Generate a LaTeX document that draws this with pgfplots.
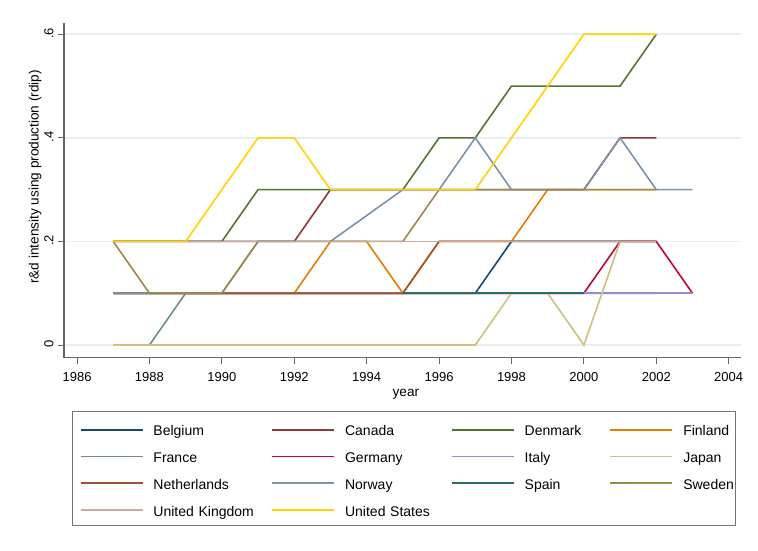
\documentclass[border=0pt]{standalone}
\usepackage{fontspec}
\setmainfont{Liberation Sans}
\usepackage{pgfplots}
\pgfplotsset{compat=1.18}

% Stata s2color line colours
\definecolor{cBEL}{RGB}{26,71,111}
\definecolor{cCAN}{RGB}{144,53,59}
\definecolor{cDNK}{RGB}{85,117,47}
\definecolor{cFIN}{RGB}{227,126,0}
\definecolor{cFRA}{RGB}{110,142,132}
\definecolor{cDEU}{RGB}{193,5,52}
\definecolor{cITA}{RGB}{147,141,210}
\definecolor{cJPN}{RGB}{202,194,126}
\definecolor{cNLD}{RGB}{160,82,45}
\definecolor{cNOR}{RGB}{123,146,168}
\definecolor{cESP}{RGB}{45,109,102}
\definecolor{cSWE}{RGB}{156,136,71}
\definecolor{cGBR}{RGB}{200,168,162}
\definecolor{cUSA}{RGB}{255,210,0}
\definecolor{gridc}{RGB}{232,239,243}

\begin{document}
\fontsize{13}{15.6}\selectfont
\begin{tikzpicture}
\path[use as bounding box] (0pt,0pt) rectangle (758pt,550pt);
\begin{axis}[
    at={(64pt,192.5pt)}, anchor=south west,
    width=677pt, height=334.5pt, scale only axis,
    xmin=1985.64, xmax=2004.34,
    ymin=-0.0241, ymax=0.6218,
    axis x line*=bottom, axis y line*=left,
    axis line style={black!60, line width=1.2pt},
    xtick={1986,1988,...,2004},
    ytick={0,0.2,0.4,0.6},
    yticklabels={0,.2,.4,.6},
    tick align=outside,
    major tick length=6pt,
    tick style={black!60, line width=1pt},
    ymajorgrids=true,
    grid style={gridc, line width=1.6pt},
    /pgf/number format/1000 sep={},
    /pgf/number format/assume math mode=true,
    ticklabel style={font=\fontsize{13}{15.6}\selectfont},
    xticklabel style={yshift=-4.5pt},
    yticklabel style={rotate=90, anchor=south, xshift=1pt},
    xlabel={year},
    ylabel={r\&d intensity using production (rdip)},
    label style={font=\fontsize{13.6}{16}\selectfont},
    xlabel style={at={(axis description cs:0.505,-0.11)}, anchor=center},
    ylabel style={at={(axis description cs:-0.0428,0.54)}, anchor=center},
    every axis plot/.append style={line width=1.6pt},
    legend columns=4,
    legend cell align=left,
    legend image code/.code={\draw[#1, line width=1.6pt] (0pt,-1.5pt) -- (62pt,-1.5pt);},
    legend style={
        at={(axis description cs:0.0118,-0.16)}, anchor=north west,
        draw=black!55, line width=0.8pt, fill=white,
        inner xsep=7.5pt, inner ysep=3.5pt,
        font=\fontsize{14}{16.8}\selectfont,
        column sep=10pt, row sep=0pt,
        nodes={inner xsep=0pt, inner ysep=0pt, text height=21pt, text depth=5.7pt},
        /tikz/column 2/.style={nodes={text width=108pt}},
        /tikz/column 4/.style={nodes={text width=96pt}},
        /tikz/column 6/.style={nodes={text width=75pt}},
        /tikz/column 8/.style={nodes={text width=45pt}},
    },
]
\addplot[cBEL] coordinates {
(1987,0.1)(1988,0.1)(1989,0.1)(1990,0.1)(1991,0.1)(1992,0.1)(1993,0.1)(1994,0.1)
(1995,0.1)(1996,0.1)(1997,0.1)(1998,0.2)(1999,0.2)(2000,0.2)(2001,0.2)(2002,0.2)};
\addlegendentry{Belgium}
\addplot[cCAN] coordinates {
(1987,0.2)(1988,0.2)(1989,0.2)(1990,0.2)(1991,0.2)(1992,0.2)(1993,0.3)(1994,0.3)
(1995,0.3)(1996,0.3)(1997,0.3)(1998,0.3)(1999,0.3)(2000,0.3)(2001,0.4)(2002,0.4)};
\addlegendentry{Canada}
\addplot[cDNK] coordinates {
(1987,0.2)(1988,0.2)(1989,0.2)(1990,0.2)(1991,0.3)(1992,0.3)(1993,0.3)(1994,0.3)
(1995,0.3)(1996,0.4)(1997,0.4)(1998,0.5)(1999,0.5)(2000,0.5)(2001,0.5)(2002,0.6)};
\addlegendentry{Denmark}
\addplot[cFIN] coordinates {
(1987,0.1)(1988,0.1)(1989,0.1)(1990,0.1)(1991,0.1)(1992,0.1)(1993,0.2)(1994,0.2)
(1995,0.1)(1996,0.2)(1997,0.2)(1998,0.2)(1999,0.3)(2000,0.3)(2001,0.3)(2002,0.3)};
\addlegendentry{Finland}
\addplot[cFRA] coordinates {
(1987,0)(1988,0)(1989,0.1)(1990,0.1)(1991,0.1)(1992,0.1)(1993,0.1)(1994,0.1)
(1995,0.1)(1996,0.1)(1997,0.1)(1998,0.1)(1999,0.1)(2000,0.1)(2001,0.1)(2002,0.1)};
\addlegendentry{France}
\addplot[cDEU] coordinates {
(1987,0.1)(1988,0.1)(1989,0.1)(1990,0.1)(1991,0.1)(1992,0.1)(1993,0.1)(1994,0.1)
(1995,0.1)(1996,0.1)(1997,0.1)(1998,0.1)(1999,0.1)(2000,0.1)(2001,0.2)(2002,0.2)(2003,0.1)};
\addlegendentry{Germany}
\addplot[cITA] coordinates {
(1987,0.1)(1988,0.1)(1989,0.1)(1990,0.1)(1991,0.1)(1992,0.1)(1993,0.1)(1994,0.1)
(1995,0.1)(1996,0.1)(1997,0.1)(1998,0.1)(1999,0.1)(2000,0.1)(2001,0.1)(2002,0.1)(2003,0.1)};
\addlegendentry{Italy}
\addplot[cJPN] coordinates {
(1987,0)(1988,0)(1989,0)(1990,0)(1991,0)(1992,0)(1993,0)(1994,0)
(1995,0)(1996,0)(1997,0)(1998,0.1)(1999,0.1)(2000,0)(2001,0.2)(2002,0.2)};
\addlegendentry{Japan}
\addplot[cNLD] coordinates {
(1987,0.1)(1988,0.1)(1989,0.1)(1990,0.1)(1991,0.1)(1992,0.1)(1993,0.1)(1994,0.1)
(1995,0.1)(1996,0.2)(1997,0.2)(1998,0.2)(1999,0.2)(2000,0.2)(2001,0.2)(2002,0.2)};
\addlegendentry{Netherlands}
\addplot[cNOR] coordinates {
(1987,0.1)(1988,0.1)(1989,0.1)(1990,0.1)(1991,0.2)(1992,0.2)(1993,0.2)(1994,0.25)
(1995,0.3)(1996,0.3)(1997,0.4)(1998,0.3)(1999,0.3)(2000,0.3)(2001,0.4)(2002,0.3)(2003,0.3)};
\addlegendentry{Norway}
\addplot[cESP] coordinates {
(1995,0.1)(1996,0.1)(1997,0.1)(1998,0.1)(1999,0.1)(2000,0.1)};
\addlegendentry{Spain}
\addplot[cSWE] coordinates {
(1987,0.2)(1988,0.1)(1989,0.1)(1990,0.1)(1991,0.2)(1992,0.2)(1993,0.2)(1994,0.2)
(1995,0.2)(1996,0.3)(1997,0.3)(1998,0.3)(1999,0.3)(2000,0.3)(2001,0.3)(2002,0.3)};
\addlegendentry{Sweden}
\addplot[cGBR] coordinates {
(1987,0.2)(1988,0.2)(1989,0.2)(1990,0.2)(1991,0.2)(1992,0.2)(1993,0.2)(1994,0.2)
(1995,0.2)(1996,0.2)(1997,0.2)(1998,0.2)(1999,0.2)(2000,0.2)(2001,0.2)(2002,0.2)};
\addlegendentry{United Kingdom}
\addplot[cUSA] coordinates {
(1987,0.2)(1988,0.2)(1989,0.2)(1990,0.3)(1991,0.4)(1992,0.4)(1993,0.3)(1994,0.3)
(1995,0.3)(1996,0.3)(1997,0.3)(1998,0.4)(1999,0.5)(2000,0.6)(2001,0.6)(2002,0.6)};
\addlegendentry{United States}
\end{axis}
\end{tikzpicture}
\end{document}
